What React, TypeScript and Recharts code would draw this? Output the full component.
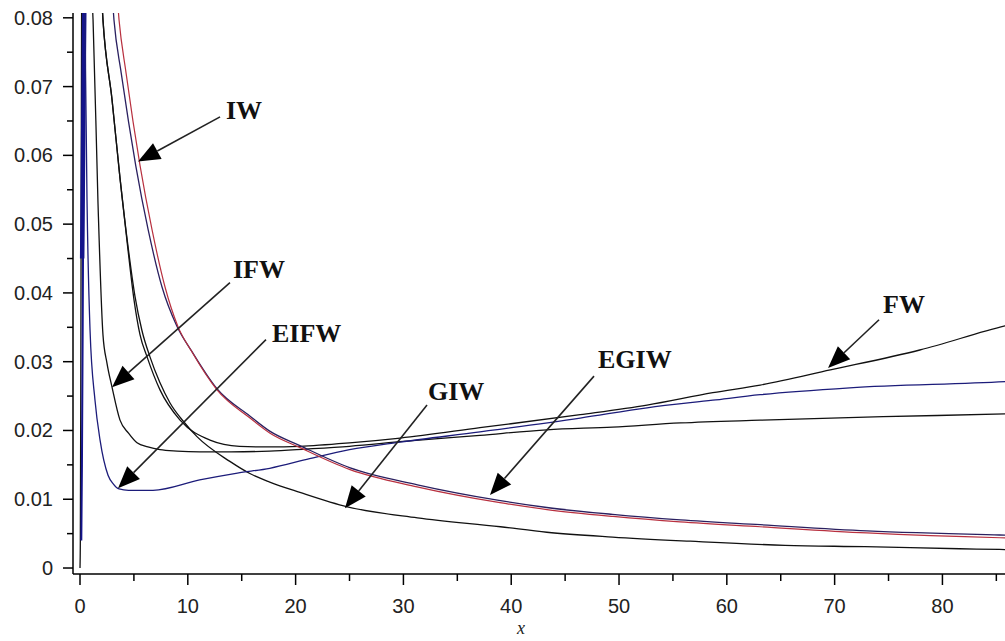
import React from 'react';
import { LineChart, Line, XAxis, YAxis, ReferenceLine, ReferenceDot } from 'recharts';

// tick values
const xTicks = [0, 5, 10, 15, 20, 25, 30, 35, 40, 45, 50, 55, 60, 65, 70, 75, 80, 85];
const yTicks = [0, 0.005, 0.01, 0.015, 0.02, 0.025, 0.03, 0.035, 0.04, 0.045, 0.05, 0.055, 0.06, 0.065, 0.07, 0.075, 0.08];

// curves
const spikeX = [0.0, 0.03, 0.07, 0.11, 0.16];
const spikeY = [0.0, 0.004, 0.025, 0.055, 0.09];

const navyX = [0.12, 0.18, 0.25, 0.32];
const navyY = [0.004, 0.015, 0.035, 0.06];

const navyTopX = [0.2, 0.28, 0.36, 0.45];
const navyTopY = [0.045, 0.06, 0.075, 0.09];

const giwX = [1.9, 2.13, 2.97, 3.71, 4.45, 5.1, 5.75, 6.49, 7.4, 8.35, 9.6, 10.85, 13.9, 15.8, 17.6, 20.4, 24.8, 31.3, 39, 43.3, 49.4, 56.6, 65.4, 72.8, 81.6, 85.3, 88];
const giwY = [0.086, 0.0797, 0.0681, 0.0567, 0.0468, 0.0395, 0.0345, 0.0307, 0.027, 0.024, 0.0213, 0.0191, 0.0155, 0.0137, 0.0125, 0.011, 0.0089, 0.0073, 0.006, 0.0052, 0.0045, 0.0039, 0.0033, 0.0031, 0.0028, 0.0027, 0.0026];

const fwX = [1.9, 2.13, 2.97, 3.71, 4.45, 5.01, 5.57, 6.22, 7.42, 9.28, 12.06, 14.8, 17.6, 20.4, 25, 29.7, 37.1, 46.4, 52.6, 58.7, 63.1, 69.6, 77.9, 85.8, 88];
const fwY = [0.086, 0.0797, 0.0681, 0.0567, 0.0463, 0.039, 0.0339, 0.0307, 0.0259, 0.0215, 0.0186, 0.0177, 0.0176, 0.0177, 0.0182, 0.0189, 0.0204, 0.0223, 0.0237, 0.0255, 0.0266, 0.0288, 0.0317, 0.0352, 0.036];

const ifwX = [1.0, 1.21, 1.67, 2.13, 2.5, 2.97, 3.71, 4.5, 5.29, 6.3, 7.42, 9, 11.1, 14, 17.6, 21, 25, 30, 37.1, 43.3, 49.4, 55.7, 63.1, 74.5, 85.8, 88];
const ifwY = [0.086, 0.0797, 0.053, 0.0339, 0.0298, 0.0263, 0.0215, 0.0196, 0.0182, 0.0176, 0.0172, 0.017, 0.0169, 0.0169, 0.017, 0.0173, 0.0177, 0.0184, 0.0193, 0.0201, 0.0205, 0.0211, 0.0215, 0.022, 0.0224, 0.0225];

const eifwX = [0.35, 0.46, 0.65, 0.93, 1.39, 1.86, 2.6, 3.1, 3.62, 4.5, 6.77, 11.1, 14.6, 17.6, 21.3, 25, 29.7, 37.1, 46.4, 52.6, 58.7, 63.1, 71.4, 85.8, 88];
const eifwY = [0.09, 0.0797, 0.0535, 0.0346, 0.0244, 0.0186, 0.0135, 0.0122, 0.0115, 0.0113, 0.0113, 0.0128, 0.0138, 0.0145, 0.0159, 0.0172, 0.0183, 0.0198, 0.0218, 0.0233, 0.0244, 0.0252, 0.0262, 0.0271, 0.0273];

const egiwX = [2.9, 3.15, 3.82, 4.5, 5.17, 6.32, 7.6, 8.98, 10.33, 12.68, 15.75, 17.6, 20.4, 25, 31.3, 39, 43.3, 49.4, 55.7, 63.1, 73, 85.3, 88];
const egiwY = [0.085, 0.0797, 0.072, 0.0649, 0.0585, 0.0492, 0.0409, 0.0352, 0.0316, 0.0261, 0.0221, 0.0199, 0.0178, 0.0146, 0.0121, 0.0098, 0.0088, 0.0078, 0.007, 0.0063, 0.0054, 0.0048, 0.0047];

const iwX = [3.35, 3.62, 4.27, 4.92, 5.57, 6.68, 7.88, 9.09, 10.39, 12.71, 15.77, 17.63, 20.41, 25.05, 31.26, 38.96, 43.32, 49.44, 55.66, 63.08, 73.0, 85.34, 88];
const iwY = [0.085, 0.0797, 0.072, 0.0649, 0.0585, 0.0492, 0.0409, 0.0351, 0.0314, 0.0259, 0.0218, 0.0196, 0.0175, 0.0143, 0.0118, 0.0095, 0.0085, 0.0075, 0.0067, 0.006, 0.0051, 0.0044, 0.0043];

// annotations: label name, label anchor (left/baseline), arrow start, arrow tip
const labelNames = ['IW', 'IFW', 'EIFW', 'GIW', 'EGIW', 'FW'];
const labelPos = [[13.54, 0.0653], [14.19, 0.0422], [17.81, 0.0329], [32.28, 0.0244], [48.05, 0.0291], [74.49, 0.0371]];
const arrowFrom = [[12.99, 0.0656], [13.91, 0.0415], [17.25, 0.0332], [32.19, 0.0237], [47.68, 0.0279], [74.12, 0.0361]];
const arrowTo = [[5.38, 0.0591], [2.97, 0.0263], [3.53, 0.0116], [24.58, 0.0087], [38.03, 0.0106], [69.39, 0.0291]];

const pts = (xs: number[], ys: number[]) => xs.map((x, i) => ({ x, y: ys[i] }));

const series = [
  { name: 'spike', data: pts(spikeX, spikeY), color: '#111111', width: 1.3 },
  { name: 'navy', data: pts(navyX, navyY), color: '#14148c', width: 2 },
  { name: 'navyTop', data: pts(navyTopX, navyTopY), color: '#14148c', width: 4.5 },
  { name: 'GIW', data: pts(giwX, giwY), color: '#111111', width: 1.3 },
  { name: 'FW', data: pts(fwX, fwY), color: '#111111', width: 1.3 },
  { name: 'IFW', data: pts(ifwX, ifwY), color: '#111111', width: 1.3 },
  { name: 'EIFW', data: pts(eifwX, eifwY), color: '#1c1c7a', width: 1.3 },
  { name: 'EGIW', data: pts(egiwX, egiwY), color: '#2a2060', width: 1.3 },
  { name: 'IW', data: pts(iwX, iwY), color: '#b8303f', width: 1.2 },
];

const tickFont = '"Liberation Sans", Arial, sans-serif';

const XTick = (props: any) => {
  const { x, y, payload } = props;
  const major = payload.value % 10 === 0;
  return (
    <g>
      <line x1={x} y1={y} x2={x} y2={y + (major ? 11 : 7)} stroke="#000" strokeWidth={1.5} />
      {major && (
        <text x={x} y={y + 39} textAnchor="middle" fontFamily={tickFont} fontSize={20} fill="#222">
          {payload.value}
        </text>
      )}
    </g>
  );
};

const YTick = (props: any) => {
  const { x, y, payload } = props;
  const v = payload.value;
  const major = Math.abs(v * 100 - Math.round(v * 100)) < 1e-6;
  return (
    <g>
      <line x1={x} y1={y} x2={x - (major ? 10 : 6)} y2={y} stroke="#000" strokeWidth={1.5} />
      {major && (
        <text x={x - 20} y={y} dy="0.35em" textAnchor="end" fontFamily={tickFont} fontSize={20} fill="#222">
          {v === 0 ? '0' : v.toFixed(2)}
        </text>
      )}
    </g>
  );
};

const Arrow = (p: any) => {
  const { x1, y1, x2, y2 } = p;
  const dx = x2 - x1;
  const dy = y2 - y1;
  const len = Math.hypot(dx, dy) || 1;
  const ux = dx / len;
  const uy = dy / len;
  const hl = 22;
  const hw = 9;
  const bx = x2 - ux * hl;
  const by = y2 - uy * hl;
  const head = `${x2},${y2} ${bx - uy * hw},${by + ux * hw} ${bx + uy * hw},${by - ux * hw}`;
  return (
    <g>
      <line x1={x1} y1={y1} x2={bx} y2={by} stroke="#222" strokeWidth={1.6} />
      <polygon points={head} fill="#000" />
    </g>
  );
};

export default function App() {
  return (
    <div style={{ position: 'fixed', left: 0, top: 0, width: 1005, height: 641, overflow: 'hidden', background: '#fff' }}>
      <LineChart width={1040} height={641} margin={{ top: 13, right: 11, left: 0, bottom: 0 }}>
        <XAxis
          xAxisId="top"
          orientation="top"
          type="number"
          dataKey="x"
          domain={[-0.65, 88.03]}
          allowDataOverflow
          height={0}
          tick={false}
          tickLine={false}
          axisLine={{ stroke: '#000', strokeWidth: 1.5 }}
        />
        <XAxis
          type="number"
          dataKey="x"
          domain={[-0.65, 88.03]}
          allowDataOverflow
          ticks={xTicks}
          interval={0}
          height={67}
          tickSize={0}
          tickMargin={0}
          tickLine={false}
          tick={<XTick />}
          axisLine={{ stroke: '#000', strokeWidth: 1.5 }}
          label={{
            value: 'x',
            position: 'insideBottom',
            offset: 7,
            dx: -30,
            style: { fontFamily: '"Liberation Serif", serif', fontStyle: 'italic', fontSize: 18, fill: '#222' },
          }}
        />
        <YAxis
          type="number"
          domain={[-0.00087, 0.0807]}
          allowDataOverflow
          ticks={yTicks}
          interval={0}
          width={73}
          tickSize={0}
          tickMargin={0}
          tickLine={false}
          tick={<YTick />}
          axisLine={{ stroke: '#000', strokeWidth: 1.5 }}
        />
        {series.map((s) => (
          <Line
            key={s.name}
            data={s.data}
            dataKey="y"
            type="monotone"
            stroke={s.color}
            strokeWidth={s.width}
            dot={false}
            isAnimationActive={false}
          />
        ))}
        {labelNames.map((n, i) => (
          <ReferenceLine
            key={`arrow-${n}`}
            segment={[
              { x: arrowFrom[i][0], y: arrowFrom[i][1] },
              { x: arrowTo[i][0], y: arrowTo[i][1] },
            ]}
            shape={Arrow}
          />
        ))}
        {labelNames.map((n, i) => (
          <ReferenceDot
            key={`label-${n}`}
            x={labelPos[i][0]}
            y={labelPos[i][1]}
            shape={(p: any) => (
              <text
                x={p.cx}
                y={p.cy}
                fontFamily='"Liberation Serif", "Times New Roman", serif'
                fontWeight="bold"
                fontSize={26}
                fill="#111"
              >
                {n}
              </text>
            )}
          />
        ))}
      </LineChart>
    </div>
  );
}
